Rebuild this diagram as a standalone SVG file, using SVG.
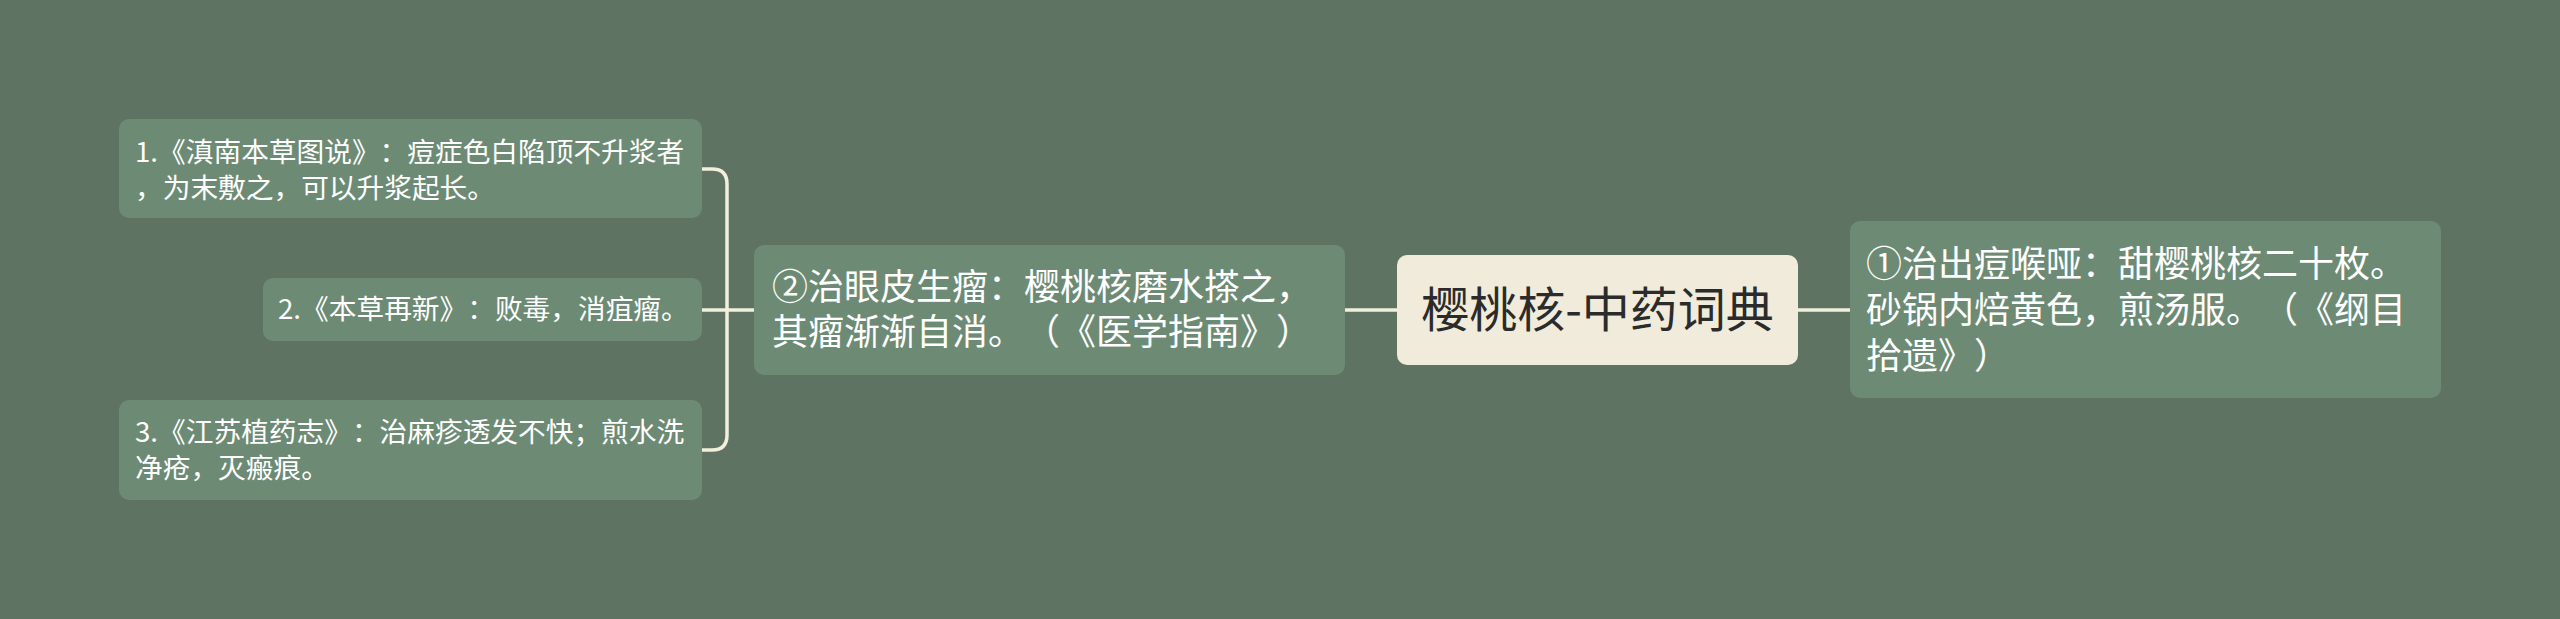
<svg xmlns="http://www.w3.org/2000/svg" width="2560" height="619" viewBox="0 0 2560 619">
<style>
.bg{fill:#5f7363}
.node{fill:#6d8b74}
.center{fill:#f0ebda}
text{font-family:"Noto Sans CJK SC","Noto Sans",sans-serif;font-feature-settings:"chws" 0,"halt" 0,"palt" 0,"kern" 0;font-kerning:none;text-spacing-trim:space-all}
.t{fill:#ffffff}
.s{font-size:27.7px}
.m{font-size:36px}
.c{font-size:48px;fill:#2b2b2b}
.link{fill:none;stroke:#f3efdd;stroke-width:3.5;stroke-linecap:round}
</style>
<rect class="bg" x="0" y="0" width="2560" height="619"/>
<g id="connectors">
<path class="link" d="M1345 310 H1397"/>
<path class="link" d="M1798 310 H1850"/>
<path class="link" d="M702 169 H712 Q727 169 727 184 V435 Q727 450 712 450 H702"/>
<path class="link" d="M702 310 H754"/>
</g>
<g id="center">
<rect class="center" x="1397" y="255" width="401" height="110" rx="10"/>
<text class="c" x="1597.5" y="327" text-anchor="middle">樱桃核-中药词典</text>
</g>
<g id="node-r1">
<rect class="node" x="1850" y="221" width="591" height="177" rx="10"/>
<text class="t m"><tspan x="1866" y="277">①治出痘喉哑：甜樱桃核二十枚。</tspan><tspan x="1866" y="323">砂锅内焙黄色，煎汤服。（《纲目</tspan><tspan x="1866" y="369">拾遗》）</tspan></text>
</g>
<g id="node-l2">
<rect class="node" x="754" y="245" width="591" height="130" rx="10"/>
<text class="t m"><tspan x="772" y="300">②治眼皮生瘤：樱桃核磨水搽之，</tspan><tspan x="772" y="345">其瘤渐渐自消。（《医学指南》）</tspan></text>
</g>
<g id="leaf1">
<rect class="node" x="119" y="119" width="583" height="99" rx="10"/>
<text class="t s"><tspan x="135" y="162">1.《滇南本草图说》：痘症色白陷顶不升浆者</tspan><tspan x="135" y="198">，为末敷之，可以升浆起长。</tspan></text>
</g>
<g id="leaf2">
<rect class="node" x="263" y="278" width="439" height="63" rx="10"/>
<text class="t s"><tspan x="278" y="319">2.《本草再新》：败毒，消疽瘤。</tspan></text>
</g>
<g id="leaf3">
<rect class="node" x="119" y="400" width="583" height="100" rx="10"/>
<text class="t s"><tspan x="135" y="442">3.《江苏植药志》：治麻疹透发不快；煎水洗</tspan><tspan x="135" y="478">净疮，灭瘢痕。</tspan></text>
</g>
</svg>
